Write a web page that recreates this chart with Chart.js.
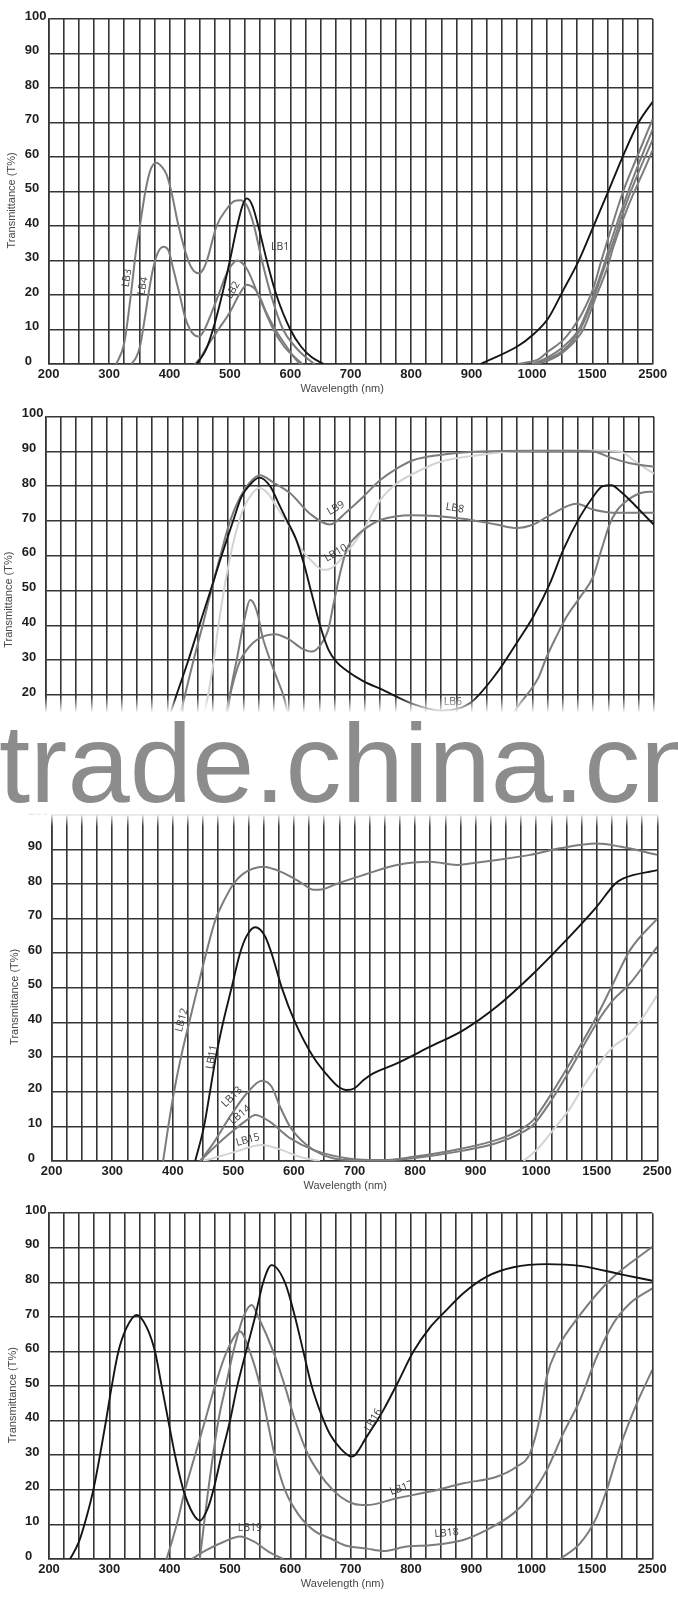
<!DOCTYPE html>
<html>
<head>
<meta charset="utf-8">
<script src="https://cdn.jsdelivr.net/npm/chart.js@4.4.1/dist/chart.umd.min.js"></script>
<style>
  html, body { margin: 0; padding: 0; background: #fff; }
  body { width: 678px; height: 1600px; position: relative; overflow: hidden; }
  .panel { position: absolute; left: 0; width: 678px; }
  .panel canvas { display: block; }
  #watermark {
    position: absolute; left: 0; top: 697px; width: 678px; height: 130px;
    background: linear-gradient(to bottom, rgba(255,255,255,0) 0px, rgba(255,255,255,1) 16px,
                rgba(255,255,255,1) 116px, rgba(255,255,255,0) 130px);
    overflow: hidden; pointer-events: none;
  }
  #watermark span {
    position: absolute; left: -1px; top: 11px; white-space: nowrap;
    font: 112px/1 "Liberation Sans", Arial, sans-serif; color: #8c8c8c;
  }
</style>
</head>
<body>
<div class="panel" style="top:0px"><canvas id="p1" width="678" height="398"></canvas></div>
<div class="panel" style="top:398px"><canvas id="p2" width="678" height="398"></canvas></div>
<div class="panel" style="top:796px"><canvas id="p3" width="678" height="398"></canvas></div>
<div class="panel" style="top:1194px"><canvas id="p4" width="678" height="406"></canvas></div>
<div id="watermark"><span>trade.china.cn</span></div>

<script>
// axis text
const yTitle = "Transmittance (T%)";
const xTitle = "Wavelength (nm)";
const xTickNm = [200, 300, 400, 500, 600, 700, 800, 900, 1000, 1500, 2500];
const yTicks = [0, 10, 20, 30, 40, 50, 60, 70, 80, 90, 100];

// curves as [wavelength nm, transmittance %]
// panel 1
const lb1Vis = [[445,0],[460,4],[472,10],[487,20],[500,30],[512,40],[521,46],[528,48],[537,46],[547,40],[561,30],[577,20],[600,10],[618,5],[635,2],[655,0]];
const lb1Nir = [[915,0],[977,5.2],[1006,8.4],[1134,13.2],[1260,21.4],[1387,29.9],[1517,39.8],[1773,50.4],[2025,61],[2273,70.2],[2500,76]];
const lb3Vis = [[312,0],[325,6],[336,20],[344,32],[351,40],[360,50],[368,56],[378,58.3],[388,57],[395,55],[403,50],[415,40],[431,30],[440,27],[449,26.3],[456,27.5],[462,30],[478,40],[495,45],[507,47.2],[517,47.5],[528,46],[540,40],[553,30],[568,20],[588,10],[608,5],[625,2],[640,0]];
const lb4Vis = [[337,0],[345,2],[351,5],[358,12],[365,20],[372,27],[380,32],[390,34],[398,33],[407,27],[417,20],[425,14],[434,10],[442,8.3],[449,8],[458,10],[470,15],[481,20],[493,25.5],[502,28.5],[512,30],[522,29],[530,27],[547,20],[572,10],[590,5],[607,2],[620,0]];
const lb2Vis = [[442,0],[452,2],[462,5],[481,10],[500,15],[515,20],[528,23],[540,22],[548,20],[560,15],[575,10],[594,5],[606,2],[616,0]];
const lb3Nir = [[977,0],[1060,1.5],[1134,3.6],[1260,7],[1330,10],[1420,15],[1517,22],[1650,30],[1790,38],[2010,50],[2240,60],[2500,71]];
const lb4Nir = [[1000,0],[1134,2],[1260,5],[1387,10],[1517,20],[1680,28],[1800,35],[2013,46],[2200,55],[2500,68]];
const lb2Nir = [[1010,0],[1134,1.5],[1260,4],[1400,10],[1517,19],[1700,28],[1820,34],[2050,46],[2300,57],[2500,65]];
const lbxNir = [[1030,0],[1134,1],[1260,3.5],[1425,10],[1550,19],[1750,28],[1850,34],[2100,46],[2350,56],[2500,62]];

// panel 2
const lb6 = [[378,0],[396,10],[415,20],[434.5,30],[452.5,40],[471,50],[489,60],[508,70],[522,77],[536,80.5],[551,82.5],[569,80],[583,75],[597,70],[611,65],[624,58],[636,50],[651,40],[665,33],[678,29.5],[695,27],[722,24],[755,21.4],[801,17.6],[850,15.5],[897,17.6],[941,26.2],[974,34.9],[1007,42.5],[1145,52.1],[1254,61.7],[1391,71.2],[1500,77],[1650,80],[1802,80.3],[1950,78.5],[2105,76],[2300,72.5],[2500,68.9]];
const lb9 = [[400,0],[415,10],[429,20],[443,30],[458,40],[472,50],[487,60],[503,70],[520,77],[535,81],[552,83.2],[575,81],[602,78],[634,72.2],[667,69],[695,72.7],[722,77],[750,81.8],[777,85.1],[804,87.5],[848,89],[914,90],[1000,90.2],[1300,90.2],[1500,90],[1775,88.3],[2105,86.6],[2500,85.6]];
const lb10 = [[440,0],[455,10],[467,20],[475.5,29],[484,40],[491,48],[498,55],[508,63.5],[525,73.5],[540,78],[551,79.5],[565,78],[580,74],[602,68],[620,62],[640,58],[656,56],[670,56.5],[690,60],[722,67.4],[750,76],[777,80.8],[804,83.6],[848,87],[914,89],[968,90],[1500,90.3],[1940,90],[2200,87],[2500,83.6]];
const lb8 = [[478,0],[490,10],[503,20],[512,26],[520,30],[541,35],[560,37],[577,37.5],[600,36],[620,33.5],[637,32.5],[650,34],[664,38.5],[673,46],[684,55],[695,62],[710,65.5],[722,67.4],[750,70.3],[804,71.7],[886,70.7],[941,69],[974,68],[1007,69],[1145,71.7],[1362,75],[1500,73.3],[1830,72.4],[2500,72.4]];
const lb7Vis = [[488,0],[496,10],[503,20],[515,31],[527,42],[536,47.3],[543,46],[549.5,42.5],[556,37],[563,33],[577,26.2],[590.5,20],[605,10],[620,3],[635,0]];
const lb7Nir = [[900,0],[940,8],[980,17.6],[1050,25],[1118,31],[1200,37],[1281,42.5],[1400,48.5],[1500,54],[1640,62],[1775,69.3],[1890,73],[1993,75],[2268,78],[2500,78.5]];

// panel 3
const lb11 = [[437,0],[451.5,10],[461.4,20],[471,30],[483,40],[497,50],[511,60],[522,65],[536,67.5],[552,65],[563,60],[580,50],[602,40],[632,30],[654,25],[673,21.5],[687,20.5],[700,21],[715,23.4],[731,25.3],[770,28.2],[825,33],[880,37.8],[935,44.6],[990,53.2],[1224,62.9],[1499,73.4],[1800,80],[1940,81.6],[2500,84]];
const lb12 = [[384,0],[392.5,10],[402,20],[413.5,30],[427,40],[441,50],[455,60],[471,70],[484,75],[500,80],[516.5,83],[549.5,85],[571.5,84],[596,82],[615,80],[632,78.3],[648,78.5],[670,80],[715,82.6],[770,85.5],[825,86.4],[869,85.5],[891,85.9],[935,86.9],[990,88.4],[1196,90.3],[1499,91.7],[1885,90.8],[2500,88.4]];
const lb13 = [[445,0],[466.8,5.1],[494.4,12.8],[522,19.5],[547,23.2],[563,21.5],[577,15.7],[593.6,9.9],[621,4.6],[648.5,1.7],[687,0.3],[750,0.3],[797,1.2],[880,3.7],[935,6.1],[968,8.5],[995,11.8],[1127,19.5],[1279,28.2],[1499,41.7],[1772,51.3],[2050,60.9],[2500,70]];
const lb14 = [[445,0],[466.8,3.7],[494.4,8],[522,11.8],[536,13.3],[560.5,11.3],[593.6,6.6],[632,3.2],[687,0.8],[750,0.2],[797,0.8],[880,3],[935,5.2],[968,7.5],[995,10.4],[1127,17.6],[1279,26.3],[1499,39.8],[1772,46.5],[2050,51.3],[2500,61.9]];
const lb15Vis = [[450,0],[466.8,0.8],[500,2.5],[547,4.6],[575,3.5],[610,1.2],[643,0]];
const lb15Nir = [[979,0],[1004,3.2],[1141,9],[1279,15.2],[1389,21.5],[1499,27.2],[1772,33],[1995,35.9],[2270,41.7],[2500,47.9]];

// panel 4
const lb16 = [[235,0],[249.7,5],[262,12],[273.5,20],[284.5,30],[294.5,40],[304,50],[315,60],[328.8,67],[345.4,70.6],[362,67],[375.7,60],[386.8,50],[397.8,40],[408.9,30],[422.7,20],[439,13],[450.3,11.1],[464,15],[472.5,20],[486,30],[500,40],[512,50],[526.6,60],[541.5,70],[555,80],[569,85],[591,80],[607.8,70],[621.6,60],[635.5,50],[651,42],[666,36],[683,32],[702,29.6],[726.7,35.4],[754,43],[778,51],[804,60],[831.7,67],[853.8,71.1],[886.8,76.9],[925.6,81.7],[969.8,84.4],[1125,85.3],[1401,84.8],[2020,82.2],[2500,80.5]];
const lb17 = [[450,0],[464,20],[480.7,40],[493,50],[505.6,60],[522,70],[536,73.5],[547,70],[571.8,60],[591,50],[608,40],[630,30],[660,22],[683,18],[705,16],[727,15.6],[776.5,17.6],[831.7,19.5],[886.8,21.9],[942,23.8],[975,26.7],[997.4,30.6],[1070,41.2],[1125,52.7],[1208,60.5],[1401,70.6],[1800,80.7],[2500,90.3]];
const lb18 = [[395,0],[411.7,10],[425.5,20],[442,30],[458.6,40],[475,50],[494.6,60],[516.6,65.8],[533,60],[550,50],[562,40],[574,30],[591,20],[613,13],[641,8],[666,6],[690,4],[727,3],[754,2.3],[793,3.6],[831.7,4],[886.8,5.5],[925.6,8.4],[969.8,13.2],[997,18],[1125,25.7],[1263,36.4],[1401,46],[1580,58.5],[1855,68.2],[2132,74],[2500,78.3]];
const lb19Vis = [[436.5,0],[460,2.5],[490,5],[516.6,6.5],[540,5],[565,2],[588.5,0]];
const lb19Nir = [[1236,0],[1401,4.5],[1580,12.2],[1745,20],[1967,32.5],[2243,45],[2500,54.7]];

// curve labels: [text, nm, T, rotation deg]
const labels1 = [["LB1",583,34,0],["LB2",505,21.4,-60],["LB3",329.7,24.9,-80],["LB4",356,22.6,-80]];
const labels2 = [["LB9",677,73.7,-30],["LB10",677,60.8,-30],["LB8",872.6,73.7,10],["LB6",869.5,18,0]];
const labels3 = [["LB12",415,40.7,-75],["LB11",464.7,30,-80],["LB13",497.8,18.5,-45],["LB14",511,13.3,-40],["LB15",524,6.1,-15]];
const labels4 = [["LB16",737.6,40.2,-60],["LB17",784.7,20.5,-20],["LB18",859,7.5,-5],["LB19",533,9,0]];

// wavelength -> grid position (axis is piecewise: 25 nm / cell up to 1000, then 125, then 250)
function nmToAxis(nm) {
  if (nm <= 1000) return (nm - 200) / 25;
  if (nm <= 1500) return 32 + (nm - 1000) / 125;
  return 36 + (nm - 1500) / 250;
}

const STYLE = {
  black: { borderColor: "#151515", borderWidth: 1.9 },
  gray: { borderColor: "#7c7c7c", borderWidth: 2 },
  light: { borderColor: "#d3d3d3", borderWidth: 2 }
};
const GRID = "#353535";
const FONT = '"Liberation Sans", Arial, sans-serif';

const panels = [
  { id: "p1", canvasTop: 0, left: 48.7, right: 652.7, top: 19, bottom: 364, labels: labels1,
    series: [[lb1Vis,"black"],[lb1Nir,"black"],[lb3Vis,"gray"],[lb4Vis,"gray"],[lb2Vis,"gray"],[lb3Nir,"gray"],[lb4Nir,"gray"],[lb2Nir,"gray"],[lbxNir,"gray"]] },
  { id: "p2", canvasTop: 398, left: 45.7, right: 654, top: 416.7, bottom: 764.6, labels: labels2,
    series: [[lb6,"black"],[lb9,"gray"],[lb8,"gray"],[lb7Vis,"gray"],[lb7Nir,"gray"],[lb10,"light"]] },
  { id: "p3", canvasTop: 796, left: 51.7, right: 657.3, top: 814.7, bottom: 1161, labels: labels3,
    series: [[lb11,"black"],[lb12,"gray"],[lb13,"gray"],[lb14,"gray"],[lb15Vis,"light"],[lb15Nir,"light"]] },
  { id: "p4", canvasTop: 1194, left: 49, right: 652.3, top: 1213.3, bottom: 1559, labels: labels4,
    series: [[lb16,"black"],[lb17,"gray"],[lb18,"gray"],[lb19Vis,"gray"],[lb19Nir,"gray"]] }
];

// axis titles and curve names
const textPlugin = {
  id: "panelText",
  afterDatasetsDraw(chart, args, opts) {
    const { ctx, chartArea, scales } = chart;
    ctx.save();
    ctx.fillStyle = "#484848";
    ctx.font = "11px " + FONT;
    ctx.textAlign = "center";
    ctx.textBaseline = "middle";
    ctx.fillText(xTitle, chartArea.left + 293.5, chartArea.bottom + 24.5);
    ctx.save();
    ctx.translate(chartArea.left - 36.5, (chartArea.top + chartArea.bottom) / 2 + 9);
    ctx.rotate(-Math.PI / 2);
    ctx.fillText(yTitle, 0, 0);
    ctx.restore();

    ctx.fillStyle = "#3c3c3c";
    ctx.font = '10.5px "Open Sans", sans-serif';
    opts.labels.forEach(([text, nm, t, rot]) => {
      ctx.save();
      ctx.translate(scales.x.getPixelForValue(nmToAxis(nm)), scales.y.getPixelForValue(t));
      ctx.rotate(rot * Math.PI / 180);
      ctx.fillText(text, 0, 0);
      ctx.restore();
    });
    ctx.restore();
  }
};

panels.forEach(p => {
  const canvas = document.getElementById(p.id);
  const H = canvas.height;
  const axisW = 24;
  const datasets = p.series.map(([arr, style]) => ({
    data: arr.map(([nm, t]) => ({ x: nmToAxis(nm), y: t })),
    ...STYLE[style],
    pointRadius: 0,
    fill: false,
    cubicInterpolationMode: "monotone",
    borderJoinStyle: "round"
  }));

  new Chart(canvas, {
    type: "line",
    data: { datasets },
    plugins: [textPlugin],
    options: {
      responsive: false,
      animation: false,
      devicePixelRatio: 1,
      layout: {
        padding: { left: p.left - axisW, right: 678 - p.right, top: p.top - p.canvasTop, bottom: 0 }
      },
      plugins: {
        legend: { display: false },
        tooltip: { enabled: false },
        panelText: { labels: p.labels }
      },
      scales: {
        x: {
          type: "linear",
          min: 0,
          max: 40,
          afterFit: s => { s.height = H - (p.bottom - p.canvasTop); },
          grid: { color: GRID, lineWidth: 1.6, drawTicks: false },
          border: { color: GRID, width: 1.6 },
          ticks: {
            stepSize: 1,
            maxTicksLimit: 100,
            autoSkip: false,
            maxRotation: 0,
            padding: 3,
            color: "#1e1e1e",
            font: { family: FONT, size: 13, weight: "bold" },
            callback: v => {
              const nm = xTickNm.find(n => Math.abs(nmToAxis(n) - v) < 1e-6);
              return nm === undefined ? "" : String(nm);
            }
          }
        },
        y: {
          min: 0,
          max: 100,
          afterFit: s => { s.width = axisW; },
          grid: { color: GRID, lineWidth: 1.6, drawTicks: false },
          border: { color: GRID, width: 1.6 },
          afterBuildTicks: s => { s.ticks = yTicks.map(v => ({ value: v })); },
          ticks: {
            crossAlign: "far",
            labelOffset: -3,
            padding: 0,
            color: "#1e1e1e",
            font: { family: FONT, size: 13, weight: "bold" }
          }
        }
      }
    }
  });
});
</script>
</body>
</html>
